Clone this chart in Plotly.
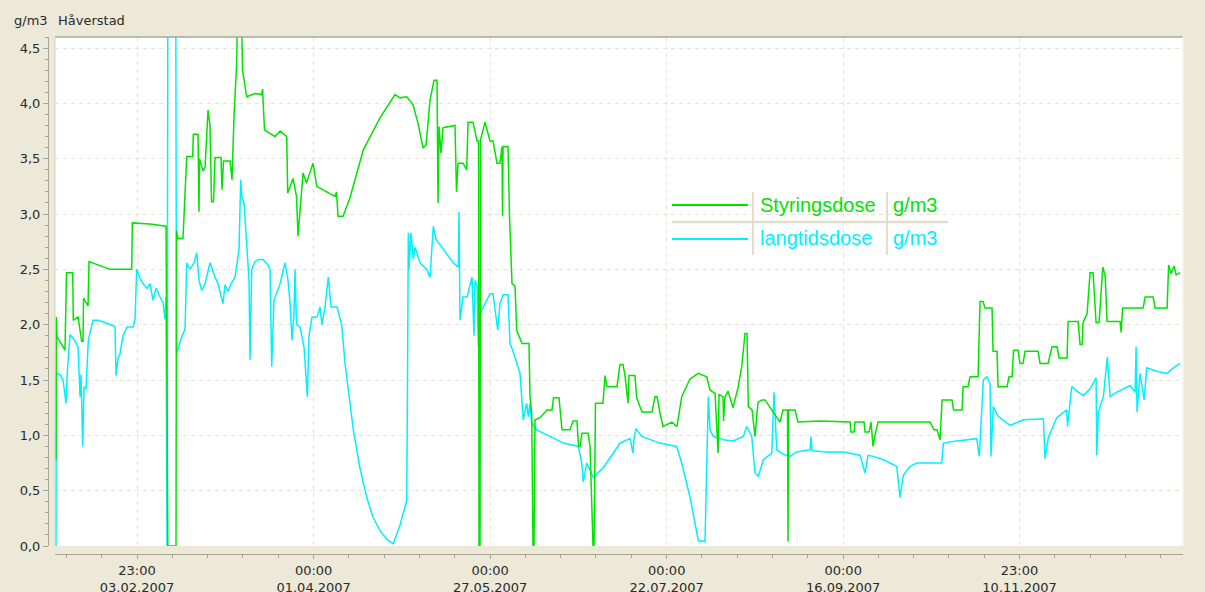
import pandas as pd
import plotly.graph_objects as go

# ---------------- data ----------------
# (days since 2007-01-01 00:00, value in g/m3)
styringsdose = [
    (8.26, 0.78), (8.35, 2.07), (8.58, 1.89), (11.12, 1.77), (11.59, 2.47), (13.56, 2.47),
    (13.75, 2.04), (15.24, 2.07), (16.42, 1.85), (16.83, 1.85), (16.99, 2.24), (18.41, 2.17),
    (18.73, 2.57), (25.39, 2.50), (32.28, 2.50), (32.47, 2.92), (38.08, 2.91), (43.16, 2.89),
    (43.48, 1.44), (43.73, 0.0), (46.33, 0.0), (46.49, 2.85), (46.97, 2.78), (48.55, 2.78),
    (49.73, 3.52), (51.63, 3.52), (51.82, 3.72), (53.31, 3.72), (53.63, 3.02), (53.79, 3.50),
    (54.90, 3.39), (55.54, 3.42), (56.49, 3.94), (57.12, 3.80), (57.60, 3.11), (58.23, 3.11),
    (58.71, 3.51), (60.61, 3.51), (60.93, 3.22), (61.40, 3.48), (63.47, 3.48), (64.10, 3.31),
    (64.73, 3.88), (65.59, 4.37), (65.84, 4.80), (67.11, 4.80), (67.43, 4.30), (68.76, 4.06),
    (71.40, 4.09), (73.46, 4.08), (73.78, 4.13), (74.41, 3.76), (77.74, 3.70), (79.33, 3.75),
    (81.45, 3.70), (81.77, 3.19), (83.45, 3.32), (84.56, 3.16), (85.04, 2.80), (85.67, 3.00),
    (86.63, 3.37), (87.74, 3.28), (89.80, 3.46), (90.97, 3.25), (93.60, 3.21), (96.78, 3.16),
    (97.25, 3.20), (97.73, 2.98), (99.32, 2.98), (101.54, 3.15), (105.76, 3.58), (111.05, 3.87),
    (115.81, 4.08), (117.40, 4.05), (119.53, 4.06), (121.52, 3.99), (123.11, 3.82), (124.70, 3.60),
    (125.65, 3.62), (126.92, 4.03), (128.19, 4.21), (129.14, 4.21), (129.46, 3.10), (129.78, 3.79),
    (130.41, 3.55), (131.04, 3.78), (134.85, 3.80), (135.32, 3.20), (135.80, 3.46), (137.39, 3.46),
    (138.56, 3.40), (138.98, 3.83), (140.56, 3.83), (141.83, 3.66), (142.31, 3.66), (142.46, 0.0),
    (142.78, 0.0), (142.94, 3.67), (144.37, 3.83), (145.95, 3.66), (146.91, 3.66), (148.17, 3.46),
    (149.12, 3.46), (149.76, 3.61), (149.92, 2.98), (150.08, 3.61), (151.66, 3.61), (152.14, 2.98),
    (152.93, 2.37), (153.88, 2.35), (154.42, 1.95), (156.10, 1.83), (158.32, 1.83), (158.64, 1.35),
    (159.18, 1.20), (159.59, 0.0), (159.91, 0.0), (160.23, 1.14), (161.81, 1.16), (164.03, 1.23),
    (165.62, 1.23), (166.10, 1.34), (167.84, 1.34), (168.79, 1.05), (171.33, 1.05), (172.28, 1.13),
    (173.55, 1.13), (174.03, 0.90), (174.50, 0.90), (175.14, 1.02), (177.04, 1.02), (177.68, 0.90),
    (178.63, 0.0), (178.95, 0.0), (179.42, 1.29), (181.80, 1.29), (182.43, 1.54), (183.07, 1.44),
    (186.24, 1.44), (187.19, 1.64), (188.14, 1.64), (188.78, 1.54), (189.73, 1.29), (190.05, 1.54),
    (191.95, 1.54), (192.49, 1.34), (194.17, 1.21), (197.34, 1.21), (198.29, 1.35), (198.93, 1.35),
    (199.88, 1.20), (200.83, 1.08), (203.69, 1.12), (205.27, 1.08), (206.77, 1.35), (209.40, 1.51),
    (212.04, 1.56), (214.70, 1.53), (215.75, 1.41), (217.34, 1.38), (218.30, 0.84), (218.61, 1.37),
    (219.88, 1.35), (220.04, 1.13), (220.51, 1.35), (221.46, 1.40), (223.05, 1.25), (224.63, 1.43),
    (225.81, 1.62), (226.85, 1.92), (227.49, 1.92), (227.90, 1.26), (229.08, 1.23), (230.03, 0.99),
    (230.98, 1.30), (232.25, 1.32), (233.20, 1.32), (234.79, 1.25), (235.74, 1.22), (237.96, 1.12),
    (238.91, 1.23), (240.34, 1.23), (240.50, 0.04), (240.66, 1.23), (242.72, 1.23), (243.67, 1.12),
    (250.65, 1.13), (260.17, 1.12), (260.49, 1.03), (261.44, 1.03), (261.76, 1.12), (264.61, 1.12),
    (264.93, 1.03), (266.20, 1.03), (266.84, 1.12), (267.47, 0.90), (268.10, 1.00), (269.05, 1.12),
    (279.21, 1.12), (285.55, 1.12), (286.82, 1.05), (287.77, 1.05), (288.73, 0.96), (289.36, 1.32),
    (292.53, 1.32), (293.01, 1.23), (295.71, 1.23), (296.03, 1.44), (297.61, 1.44), (298.25, 1.53),
    (300.79, 1.53), (301.42, 2.21), (302.37, 2.21), (303.01, 2.15), (305.23, 2.15), (305.54, 1.76),
    (306.81, 1.76), (307.13, 1.44), (309.99, 1.44), (310.62, 1.53), (311.57, 1.53), (312.05, 1.77),
    (313.47, 1.77), (314.11, 1.65), (315.06, 1.65), (315.70, 1.76), (319.82, 1.76), (320.46, 1.65),
    (323.00, 1.65), (324.27, 1.80), (325.85, 1.80), (326.49, 1.70), (329.03, 1.70), (329.35, 2.03),
    (332.52, 2.03), (333.15, 1.82), (333.79, 1.82), (334.11, 2.02), (335.38, 2.10), (336.33, 2.47),
    (337.28, 2.47), (338.23, 2.02), (339.19, 2.02), (340.36, 2.52), (341.09, 2.45), (341.73, 2.03),
    (345.85, 2.03), (346.17, 1.93), (346.65, 2.15), (353.15, 2.15), (353.79, 2.25), (356.33, 2.25),
    (356.96, 2.15), (360.77, 2.15), (361.25, 2.54), (362.04, 2.46), (362.99, 2.53), (363.63, 2.45),
    (364.90, 2.47),
]

langtidsdose = [
    (8.26, 0.0), (8.35, 1.56), (9.53, 1.55), (10.48, 1.50), (11.43, 1.29), (11.91, 1.60),
    (12.70, 1.91), (13.66, 1.88), (15.24, 1.80), (15.88, 1.35), (16.19, 1.55), (16.73, 0.90),
    (17.15, 1.44), (17.78, 1.42), (18.51, 1.86), (20.00, 2.04), (21.59, 2.04), (23.81, 2.02),
    (26.35, 1.99), (26.98, 1.98), (27.30, 1.54), (27.93, 1.70), (28.57, 1.74), (29.52, 1.90),
    (30.79, 1.98), (32.69, 1.98), (33.33, 2.05), (33.86, 2.50), (34.91, 2.42), (35.86, 2.37),
    (37.13, 2.33), (38.08, 2.37), (39.04, 2.22), (39.99, 2.33), (41.26, 2.25), (42.21, 2.20),
    (42.84, 2.05), (43.16, 2.25), (43.48, 0.0), (43.79, 6.0), (46.17, 6.0), (46.49, 1.74),
    (48.14, 1.89), (49.19, 1.96), (49.73, 2.56), (50.77, 2.50), (52.04, 2.56), (52.90, 2.65),
    (53.63, 2.40), (54.49, 2.31), (55.54, 2.37), (57.12, 2.56), (58.71, 2.43), (59.66, 2.37),
    (61.25, 2.19), (61.88, 2.36), (62.83, 2.30), (63.78, 2.37), (65.05, 2.43), (66.32, 2.68),
    (66.86, 3.31), (67.27, 3.15), (67.91, 3.10), (68.86, 2.72), (69.50, 2.40), (69.81, 1.68),
    (70.35, 2.50), (71.40, 2.57), (72.35, 2.59), (73.93, 2.59), (75.52, 2.54), (76.16, 2.50),
    (76.69, 1.62), (77.42, 2.22), (78.37, 2.30), (79.33, 2.37), (80.91, 2.56), (81.87, 2.40),
    (82.50, 2.20), (83.14, 1.86), (83.77, 2.10), (84.09, 2.50), (84.56, 2.00), (85.67, 1.98),
    (86.94, 1.80), (87.99, 1.35), (88.53, 1.90), (89.48, 2.07), (91.07, 2.07), (92.02, 2.16),
    (92.65, 2.00), (93.60, 2.16), (94.65, 2.43), (95.51, 2.16), (97.41, 2.16), (98.90, 2.00),
    (99.95, 1.65), (101.54, 1.30), (102.59, 1.05), (104.71, 0.70), (106.83, 0.44), (108.83, 0.26),
    (111.05, 0.14), (113.27, 0.06), (115.27, 0.02), (117.40, 0.19), (119.53, 0.41), (119.78, 1.50),
    (120.03, 2.83), (120.25, 2.50), (120.88, 2.83), (121.62, 2.59), (122.16, 2.70), (123.74, 2.56),
    (125.01, 2.52), (125.87, 2.50), (126.92, 2.43), (127.96, 2.89), (128.82, 2.77), (130.09, 2.72),
    (131.68, 2.66), (133.26, 2.60), (134.31, 2.56), (135.90, 2.52), (136.12, 3.02), (136.43, 2.04),
    (137.39, 2.25), (138.65, 2.25), (139.61, 2.37), (140.24, 2.43), (140.87, 1.90), (141.19, 2.40),
    (141.83, 2.35), (142.24, 1.80), (142.78, 2.10), (144.37, 2.19), (145.95, 2.28), (146.91, 2.28),
    (147.70, 2.10), (148.40, 1.95), (149.12, 2.19), (150.08, 2.27), (151.66, 2.27), (152.30, 1.83),
    (153.15, 1.77), (153.88, 1.70), (155.47, 1.56), (156.51, 1.14), (157.59, 1.29), (158.10, 1.17),
    (158.64, 1.29), (159.18, 1.11), (160.77, 1.05), (164.99, 0.99), (169.21, 0.93), (173.97, 0.90),
    (175.05, 0.75), (175.56, 0.58), (176.64, 0.75), (178.73, 0.62), (181.91, 0.71), (185.08, 0.84),
    (187.19, 0.93), (190.37, 0.97), (191.32, 0.84), (191.64, 0.97), (192.27, 1.06), (194.08, 0.99),
    (196.71, 0.96), (199.88, 0.93), (205.18, 0.90), (206.77, 0.75), (209.40, 0.44), (212.04, 0.05),
    (214.16, 0.04), (214.70, 0.66), (215.21, 1.35), (215.75, 1.05), (216.80, 0.99), (219.97, 0.96),
    (223.14, 0.95), (226.32, 0.99), (227.39, 1.08), (228.98, 0.99), (230.03, 0.66), (231.08, 0.63),
    (232.67, 0.78), (235.33, 0.84), (236.06, 1.39), (236.92, 0.87), (238.91, 0.83), (241.13, 0.81),
    (243.26, 0.85), (247.48, 0.87), (247.79, 0.99), (248.11, 0.86), (252.77, 0.85), (258.04, 0.85),
    (263.33, 0.82), (264.93, 0.66), (265.88, 0.82), (267.56, 0.81), (270.73, 0.78), (274.98, 0.72),
    (276.03, 0.44), (277.08, 0.64), (279.21, 0.72), (281.33, 0.75), (289.26, 0.75), (289.77, 0.93),
    (294.02, 0.95), (300.37, 0.97), (301.19, 0.81), (301.73, 1.10), (302.46, 1.50), (303.54, 1.53),
    (304.59, 1.47), (304.90, 0.81), (305.63, 1.26), (307.22, 1.17), (310.93, 1.09), (315.15, 1.14),
    (321.50, 1.15), (322.04, 0.79), (323.08, 0.98), (325.75, 1.16), (328.92, 1.23), (329.18, 1.08),
    (330.51, 1.44), (332.10, 1.40), (334.21, 1.36), (336.33, 1.42), (338.23, 1.52), (338.46, 0.82),
    (338.96, 1.21), (340.55, 1.35), (341.82, 1.71), (342.68, 1.35), (344.80, 1.39), (349.02, 1.45),
    (350.61, 1.39), (350.93, 1.80), (351.24, 1.21), (352.19, 1.56), (353.46, 1.32), (354.32, 1.61),
    (357.49, 1.58), (360.66, 1.56), (362.75, 1.61), (364.88, 1.65),
]

series_names = ["Styringsdose", "langtidsdose"]
unit = "g/m3"
station = "Håverstad"

tick_dates = ["2007-02-03 23:00", "2007-04-01 00:00", "2007-05-27 00:00",
              "2007-07-22 00:00", "2007-09-16 00:00", "2007-11-10 23:00"]
tick_text = ["23:00<br>03.02.2007", "00:00<br>01.04.2007", "00:00<br>27.05.2007",
             "00:00<br>22.07.2007", "00:00<br>16.09.2007", "23:00<br>10.11.2007"]
y_ticks = [0.0, 0.5, 1.0, 1.5, 2.0, 2.5, 3.0, 3.5, 4.0, 4.5]
x_range_days = [7.94, 365.81]
y_range = [0, 4.6]

# ---------------- styling ----------------
GREEN = "#00E400"
CYAN = "#00F0FF"
BEIGE = "#ECE9D8"
GRID = "#E6E3D2"
AXIS = "#A8A596"
TXT = "#2A2A2A"
FONT = "DejaVu Sans, Verdana, sans-serif"
LEGFONT = "Liberation Sans, Arial, sans-serif"

W, H = 1205, 592
ML, MR, MT, MB = 48, 22, 37, 38
PW, PH = W - ML - MR, H - MT - MB

base = pd.Timestamp("2007-01-01 00:00")


def to_dt(days):
    return [base + pd.Timedelta(days=float(d)) for d in days]


def px(x):
    return (x - ML) / PW


def py(y):
    return (H - MB - y) / PH


fig = go.Figure()
for name, data, col in [(series_names[1], langtidsdose, CYAN),
                        (series_names[0], styringsdose, GREEN)]:
    d, v = zip(*data)
    fig.add_trace(go.Scatter(x=to_dt(d), y=list(v), mode="lines", name=name,
                             line=dict(color=col, width=1.5), hoverinfo="skip"))

xr = to_dt(x_range_days)

fig.update_layout(
    width=W, height=H, autosize=False,
    margin=dict(l=ML, r=MR, t=MT, b=MB, pad=0, autoexpand=False),
    paper_bgcolor=BEIGE, plot_bgcolor="white",
    showlegend=False,
    separators=",.",
    font=dict(family=FONT, size=13, color=TXT),
    xaxis=dict(
        type="date", range=xr, domain=[px(55), 1.0],
        anchor="free", position=0, automargin=False,
        tickmode="array", tickvals=tick_dates, ticktext=tick_text,
        ticks="outside", ticklen=4, tickcolor=AXIS, tickwidth=1,
        showline=True, linecolor=AXIS, linewidth=1,
        showgrid=True, gridcolor=GRID, griddash="4px,4px", gridwidth=1,
        zeroline=False,
        tickfont=dict(family=FONT, size=13, color=TXT),
        minor=dict(tickmode="linear", tick0="2007-02-03 23:00", dtick=11.2 * 86400000,
                   ticks="outside", ticklen=3, tickcolor=AXIS, showgrid=False),
    ),
    yaxis=dict(
        range=y_range, domain=[py(546), 1.0],
        anchor="free", position=0, automargin=False,
        tickmode="array", tickvals=y_ticks, tickformat=".1f",
        ticks="outside", ticklen=5, tickcolor=AXIS, tickwidth=1,
        showline=True, linecolor=AXIS, linewidth=1,
        showgrid=True, gridcolor=GRID, griddash="4px,4px", gridwidth=1,
        zeroline=False,
        tickfont=dict(family=FONT, size=13, color=TXT),
        minor=dict(tickmode="linear", tick0=0, dtick=0.1,
                   ticks="outside", ticklen=3, tickcolor=AXIS, showgrid=False),
    ),
)

shapes = []
# plot frame: darker top edge, light left/right edges
shapes.append(dict(type="line", xref="x domain", yref="y domain", x0=0, x1=1, y0=1, y1=1,
                   line=dict(color="#A9A797", width=1.5)))
shapes.append(dict(type="line", xref="x domain", yref="y domain", x0=0, x1=0, y0=0, y1=1,
                   line=dict(color="#D6D3C4", width=1)))
shapes.append(dict(type="line", xref="x domain", yref="y domain", x0=1, x1=1, y0=0, y1=1,
                   line=dict(color="#F4F3EC", width=2)))

# legend table
for yy, col in [(205, GREEN), (239, CYAN)]:
    shapes.append(dict(type="line", xref="paper", yref="paper", x0=px(672), x1=px(748),
                       y0=py(yy), y1=py(yy), line=dict(color=col, width=2)))
for xx in (753, 887):
    shapes.append(dict(type="line", xref="paper", yref="paper", x0=px(xx), x1=px(xx),
                       y0=py(192), y1=py(255), line=dict(color="#E2DECA", width=2)))
shapes.append(dict(type="line", xref="paper", yref="paper", x0=px(672), x1=px(948),
                   y0=py(222), y1=py(222), line=dict(color="#E2DECA", width=2.5)))
fig.update_layout(shapes=shapes)

ann = []
for yy, col, nm in [(205, GREEN, series_names[0]), (238, CYAN, series_names[1])]:
    ann.append(dict(xref="paper", yref="paper", x=px(758), y=py(yy), text=nm,
                    showarrow=False, xanchor="left", yanchor="middle",
                    font=dict(family=LEGFONT, size=20, color=col)))
    ann.append(dict(xref="paper", yref="paper", x=px(891), y=py(yy), text=unit,
                    showarrow=False, xanchor="left", yanchor="middle",
                    font=dict(family=LEGFONT, size=20, color=col)))
ann.append(dict(xref="paper", yref="paper", x=px(12), y=py(20), text=unit,
                showarrow=False, xanchor="left", yanchor="middle",
                font=dict(family=FONT, size=13, color=TXT)))
ann.append(dict(xref="paper", yref="paper", x=px(56), y=py(20), text=station,
                showarrow=False, xanchor="left", yanchor="middle",
                font=dict(family=FONT, size=13, color=TXT)))
fig.update_layout(annotations=ann)

fig.write_html("out.html",
               config={"displayModeBar": False, "staticPlot": True},
               post_script="document.body.style.margin='0';document.body.style.overflow='hidden';")
